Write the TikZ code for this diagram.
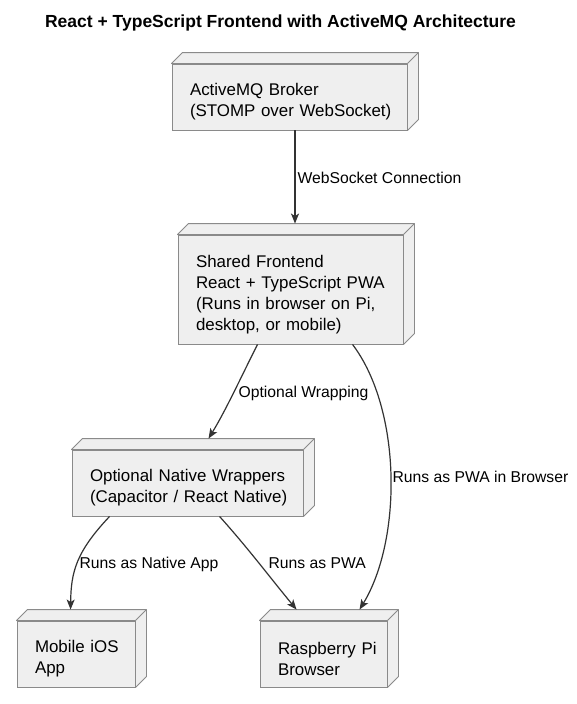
\documentclass[tikz,border=0pt]{standalone}
\usepackage{fontspec}
\setmainfont{Liberation Sans}
\usetikzlibrary{arrows.meta,calc}
\definecolor{boxfill}{HTML}{EFEFEF}
\definecolor{boxline}{HTML}{8A8A8A}
\definecolor{edgecol}{HTML}{333333}
\newcommand\mytopgap{\rule{0pt}{22pt}}
\tikzset{
  box/.style={draw=boxline, fill=boxfill, line width=0.9pt, rectangle,
    inner xsep=18pt, inner ysep=0pt, align=left,
    font=\fontsize{16.9}{21}\selectfont, text=black},
  face/.style={draw=boxline, fill=boxfill, line width=0.9pt, line join=round},
  edge/.style={draw=edgecol, line width=1.2pt,
    -{Stealth[length=10pt,width=8pt,inset=2.5pt]}},
  lbl/.style={anchor=west, inner sep=0pt, text height=11.3pt, text depth=0pt,
    font=\fontsize{15.7}{19}\selectfont, text=black},
  ttl/.style={inner sep=0pt, font=\bfseries\fontsize{17.5}{21}\selectfont, text=black}
}
\begin{document}
\begin{tikzpicture}[x=1pt,y=-1pt]
\useasboundingbox[fill=white] (0,0) rectangle (576,704);

\node[ttl] (title) at (280.5,22.5) {React + TypeScript Frontend with ActiveMQ Architecture};

\node[box, minimum width=235pt, minimum height=66pt, text width=199pt] (b1) at (289.5,97)
  {\mytopgap\mbox{ActiveMQ Broker}\\\mbox{(STOMP over WebSocket)}};
\node[box, minimum width=225pt, minimum height=109pt, text width=189pt] (b2) at (290.5,289.5)
  {\mytopgap\mbox{Shared Frontend}\\\mbox{React + TypeScript PWA}\\\mbox{(Runs in browser on Pi,}\\\mbox{desktop, or mobile)}};
\node[box, minimum width=231pt, minimum height=66pt, text width=195pt] (b3) at (187.5,483)
  {\mytopgap\mbox{Optional Native Wrappers}\\\mbox{(Capacitor / React Native)}};
\node[box, minimum width=118pt, minimum height=66pt, text width=82pt] (b4) at (76,654)
  {\mytopgap\mbox{Mobile iOS}\\\mbox{App}};
\node[box, minimum width=127pt, minimum height=66pt, text width=91pt] (b5) at (323.5,654)
  {\mytopgap\mbox{Raspberry Pi}\\\mbox{Browser}};

\foreach \n in {b1,b2,b3,b4,b5} {
  \draw[face] (\n.north west) -- ++(11,-11) -| ($(\n.south east)+(11,-11)$)
    -- (\n.south east) -- (\n.north east) -- cycle;
  \draw[face] (\n.north east) -- ++(11,-11);
}

\draw[edge] ([xshift=5.5pt]b1.south) -- ([xshift=4.5pt,yshift=11pt]b2.north)
  node[lbl] (l1) at (297,178) {WebSocket Connection};
\draw[edge] ([xshift=80pt]b2.south west) .. controls (242,375) and (226,410) .. ([xshift=137pt,yshift=11pt]b3.north west)
  node[lbl] (l2) at (238,392) {Optional Wrapping};
\draw[edge] ([xshift=175pt]b2.south west) .. controls (402,410) and (402,540) .. ([xshift=100pt,yshift=11pt]b5.north west)
  node[lbl] (l3) at (392,477) {Runs as PWA in Browser};
\draw[edge] ([xshift=38pt]b3.south west) .. controls (76,552) and (71,572) .. ([xshift=54pt,yshift=11pt]b4.north west)
  node[lbl] (l4) at (79,563) {Runs as Native App};
\draw[edge] ([xshift=148pt]b3.south west) .. controls (248,548) and (272,580) .. ([xshift=37pt,yshift=11pt]b5.north west)
  node[lbl] (l5) at (268,563) {Runs as PWA};
\end{tikzpicture}
\end{document}
